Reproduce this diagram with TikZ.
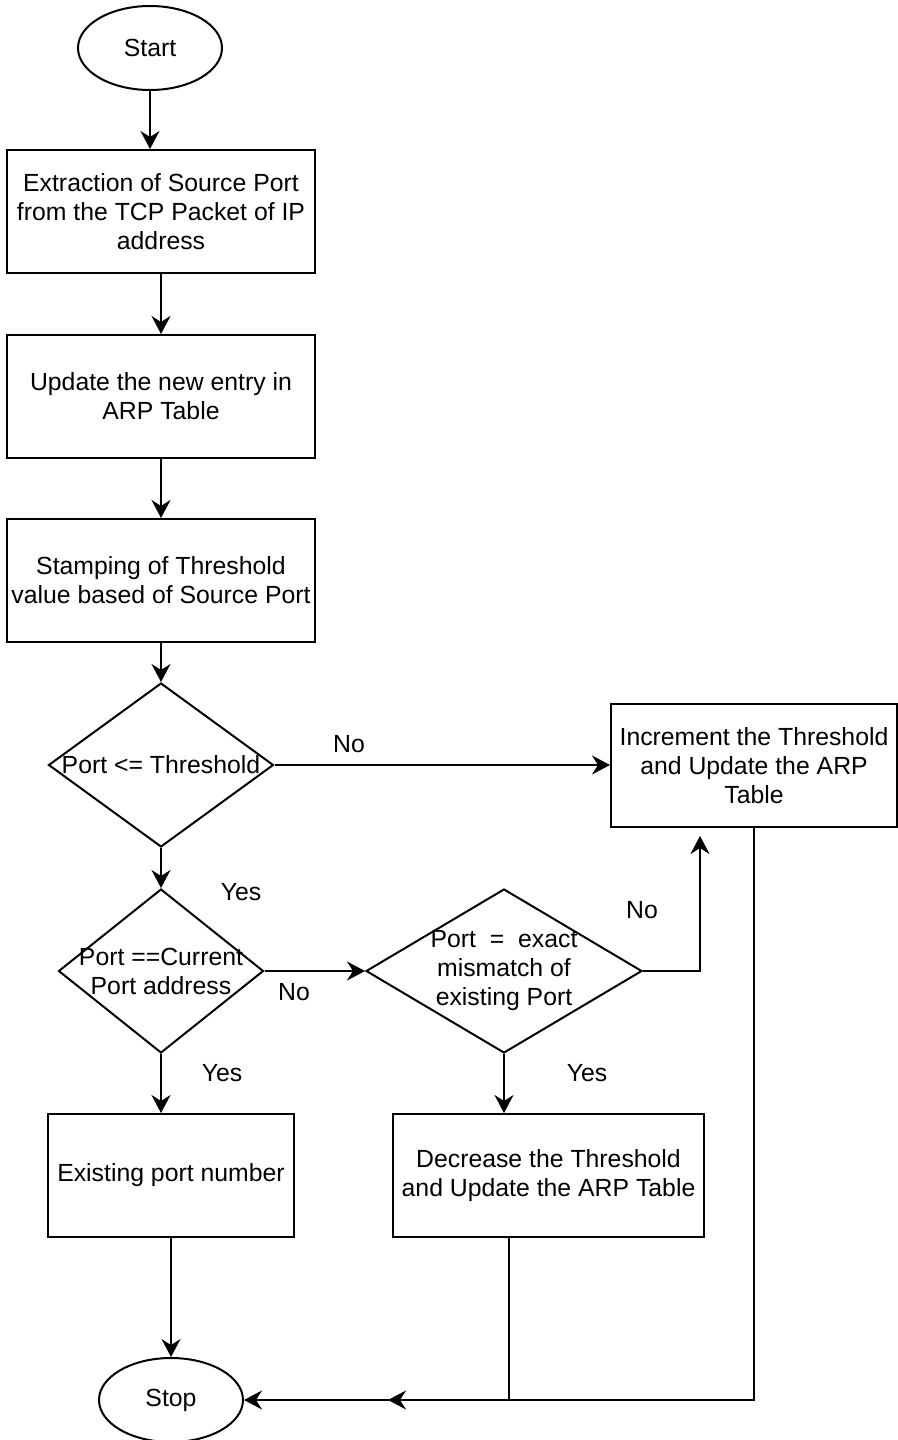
\documentclass[tikz,border=0pt]{standalone}
\usepackage{fontspec}
\setmainfont{Liberation Sans}
\usetikzlibrary{shapes.geometric,arrows.meta}

\begin{document}
\begin{tikzpicture}[x=0.5pt,y=-0.5pt,font=\fontsize{12.4}{14.5}\selectfont]
  % Estilos del diagrama de flujo
  \tikzset{
    term_node/.style={ellipse,draw,line width=1pt,inner sep=0pt,minimum width=72pt,minimum height=42pt},
    proc_node/.style={rectangle,draw,line width=1pt,align=center,inner sep=0pt,minimum height=61.5pt},
    cond_node/.style={diamond,draw,line width=1pt,inner sep=0pt,minimum height=82pt},
    edge_label/.style={inner sep=0pt},
    flow_arrow/.style={line width=1pt,-{Stealth[length=9pt,width=9.5pt,inset=3pt]}}
  }
  \useasboundingbox (0,0) rectangle (898,1440);

  % Columna principal
  \node[term_node] (start) at (150,48) {Start};
  \node[proc_node,minimum width=154pt] (extract) at (161,211.5) {Extraction of Source Port\\from the TCP Packet of IP\\address};
  \node[proc_node,minimum width=154pt] (update) at (161,396.5) {Update the new entry in\\ARP Table};
  \node[proc_node,minimum width=154pt] (stamp) at (161,580.5) {Stamping of Threshold\\value based of Source Port};
  \node[cond_node,minimum width=112.5pt,label={center:Port <= Threshold}] (portle) at (161,765) {};
  \node[cond_node,minimum width=102.5pt,label={[align=center]center:Port ==Current\\Port address}] (portcur) at (161,971) {};
  \node[proc_node,minimum width=123pt] (exist) at (171,1175.5) {Existing port number};
  \node[term_node] (stop) at (171,1400) {Stop};

  % Ramas de la derecha
  \node[proc_node,minimum width=143pt] (incr) at (754,765.5) {Increment the Threshold\\and Update the ARP\\Table};
  \node[cond_node,minimum width=138pt,label={[align=center]center:Port~~=~~exact\\mismatch of\\existing Port}] (mismatch) at (504,971) {};
  \node[proc_node,minimum width=155.5pt] (decr) at (548.5,1175.5) {Decrease the Threshold\\and Update the ARP Table};

  % Etiquetas de las ramas
  \node[edge_label] (no1) at (349,744) {No};
  \node[edge_label] (yes1) at (241,892) {Yes};
  \node[edge_label] (no2) at (294,992) {No};
  \node[edge_label] (no3) at (642,910) {No};
  \node[edge_label] (yes2) at (222,1073) {Yes};
  \node[edge_label] (yes3) at (587,1073) {Yes};

  % Conexiones
  \draw[flow_arrow] (start.south) -- (start.south |- extract.north);
  \foreach \from/\to in {extract/update,update/stamp,stamp/portle,portle/portcur,portcur/mismatch,exist/stop}
    \draw[flow_arrow] (\from) -- (\to);
  \draw[flow_arrow] (portle.east) -- (portle.east -| incr.west);
  \draw[flow_arrow,shorten >=4pt] (mismatch.east) -| ([xshift=-27pt]incr.south);
  \draw[flow_arrow] (portcur.south) -- (portcur.south |- exist.north);
  \draw[flow_arrow] (mismatch.south) -- (mismatch.south |- decr.north);

  \coordinate (merge) at (388,1400);
  \draw[flow_arrow] (incr.south) |- (merge);
  \draw[flow_arrow] ([xshift=-19.75pt]decr.south) |- (stop.east);
\end{tikzpicture}
\end{document}
